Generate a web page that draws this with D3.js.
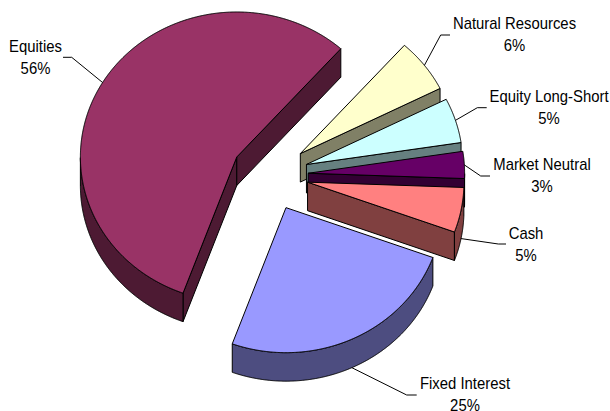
<!DOCTYPE html>
<html>
<head>
<meta charset="utf-8">
<script src="https://cdn.jsdelivr.net/npm/d3@7"></script>
<style>
html, body { margin: 0; padding: 0; background: #fff; }
svg { display: block; }
text { font-family: "Liberation Sans", Arial, sans-serif; font-size: 16px; fill: #000; text-anchor: middle; }
</style>
</head>
<body>
<div class="chart"></div>
<script>
//Chart data, clockwise from the big slice
var categories = ["Equities", "Natural Resources", "Equity Long-Short", "Market Neutral", "Cash", "Fixed Interest"];
var shares = [56, 6, 5, 3, 5, 25];
var topColors = ["#993366", "#FFFFCC", "#CCFFFF", "#660066", "#FF8080", "#9999FF"];

//Width and height
var w = 610;
var h = 411;

//Pie shape
var cx = 269.8, cy = 175.3;
var rx = 156.4, ry = 145;
var depth = 28.5;
var explode = 0.246;
var firstAngle = 200.1 * Math.PI / 180;

//Where the labels sit, and the bend and end of each leader line
var labelLayout = {
    "Equities": { x: 35.5, y: 52, bend: [71.7, 57.3], end: [63, 57.3] },
    "Natural Resources": { x: 514.5, y: 28.5, bend: [440.7, 35], end: [450, 35] },
    "Equity Long-Short": { x: 549, y: 101.7, bend: [477.3, 107.7], end: [486.7, 107.7] },
    "Market Neutral": { x: 542, y: 170, bend: [480.7, 176], end: [490, 176] },
    "Cash": { x: 526, y: 239, bend: [498.3, 244], end: [506, 244] },
    "Fixed Interest": { x: 465, y: 388.5, bend: [406.7, 395], end: [416.7, 395] }
};
var lineGap = 22;
var textSqueeze = 0.93;

//Create SVG element
var svg = d3.select(".chart")
    .append("svg")
    .attr("width", w)
    .attr("height", h);

//Scales from the unit circle to the tilted ellipse
var xScale = d3.scaleLinear().domain([-1, 1]).range([cx - rx, cx + rx]);
var yScale = d3.scaleLinear().domain([-1, 1]).range([cy - ry, cy + ry]);
var colorScale = d3.scaleOrdinal().domain(categories).range(topColors);

var pie = d3.pie()
    .sort(null)
    .startAngle(firstAngle)
    .endAngle(firstAngle + 2 * Math.PI);

var slices = pie(shares);
var line = d3.line();

//Point on the exploded slice, r = 0 is its apex
function point(mid, a, r, drop) {
    var ux = explode * Math.sin(mid) + r * Math.sin(a);
    var uy = -explode * Math.cos(mid) - r * Math.cos(a);
    return [xScale(ux), yScale(uy) + (drop ? depth : 0)];
}

function sideColor(name) {
    var c = d3.rgb(colorScale(name));
    return d3.rgb(c.r / 2, c.g / 2, c.b / 2).formatHex();
}

function addText(x, y, str) {
    svg.append("text")
        .attr("transform", "translate(" + x + "," + y + ") scale(" + textSqueeze + ",1)")
        .text(str);
}

//Draw far slices first so the near ones cover them
slices.forEach(function (s, i) {
    var name = categories[i];
    var a0 = s.startAngle, a1 = s.endAngle;
    var mid = (a0 + a1) / 2;
    var steps = d3.range(a0, a1, 0.005).concat([a1]);
    var g = svg.append("g")
        .attr("stroke", "#000")
        .attr("stroke-width", 1)
        .attr("stroke-linejoin", "round");

    //Cut faces, only those turned to the viewer
    [[a0, Math.sin(a0) < 0], [a1, Math.sin(a1) > 0]].forEach(function (e) {
        if (!e[1]) return;
        var wall = [point(mid, e[0], 0, false), point(mid, e[0], 1, false),
                    point(mid, e[0], 1, true), point(mid, e[0], 0, true)];
        g.append("path")
            .attr("d", line(wall) + "Z")
            .attr("fill", sideColor(name));
    });

    //Outer rim, front half only
    var front = steps.filter(function (a) { return Math.cos(a) <= 0; });
    if (front.length > 1) {
        var rim = front.map(function (a) { return point(mid, a, 1, false); })
            .concat(front.slice().reverse().map(function (a) { return point(mid, a, 1, true); }));
        g.append("path")
            .attr("d", line(rim) + "Z")
            .attr("fill", sideColor(name));
    }

    //Top face
    var top = [point(mid, a0, 0, false)]
        .concat(steps.map(function (a) { return point(mid, a, 1, false); }));
    g.append("path")
        .attr("d", line(top) + "Z")
        .attr("fill", colorScale(name));
});

//Leader lines and labels
slices.forEach(function (s, i) {
    var name = categories[i];
    var mid = (s.startAngle + s.endAngle) / 2;
    var spot = labelLayout[name];
    var start = point(mid, mid, 1, Math.cos(mid) < 0);

    svg.append("path")
        .attr("d", line([start, spot.bend, spot.end]))
        .attr("fill", "none")
        .attr("stroke", "#000")
        .attr("stroke-width", 1);

    addText(spot.x, spot.y, name);
    addText(spot.x, spot.y + lineGap, shares[i] + "%");
});
</script>
</body>
</html>
